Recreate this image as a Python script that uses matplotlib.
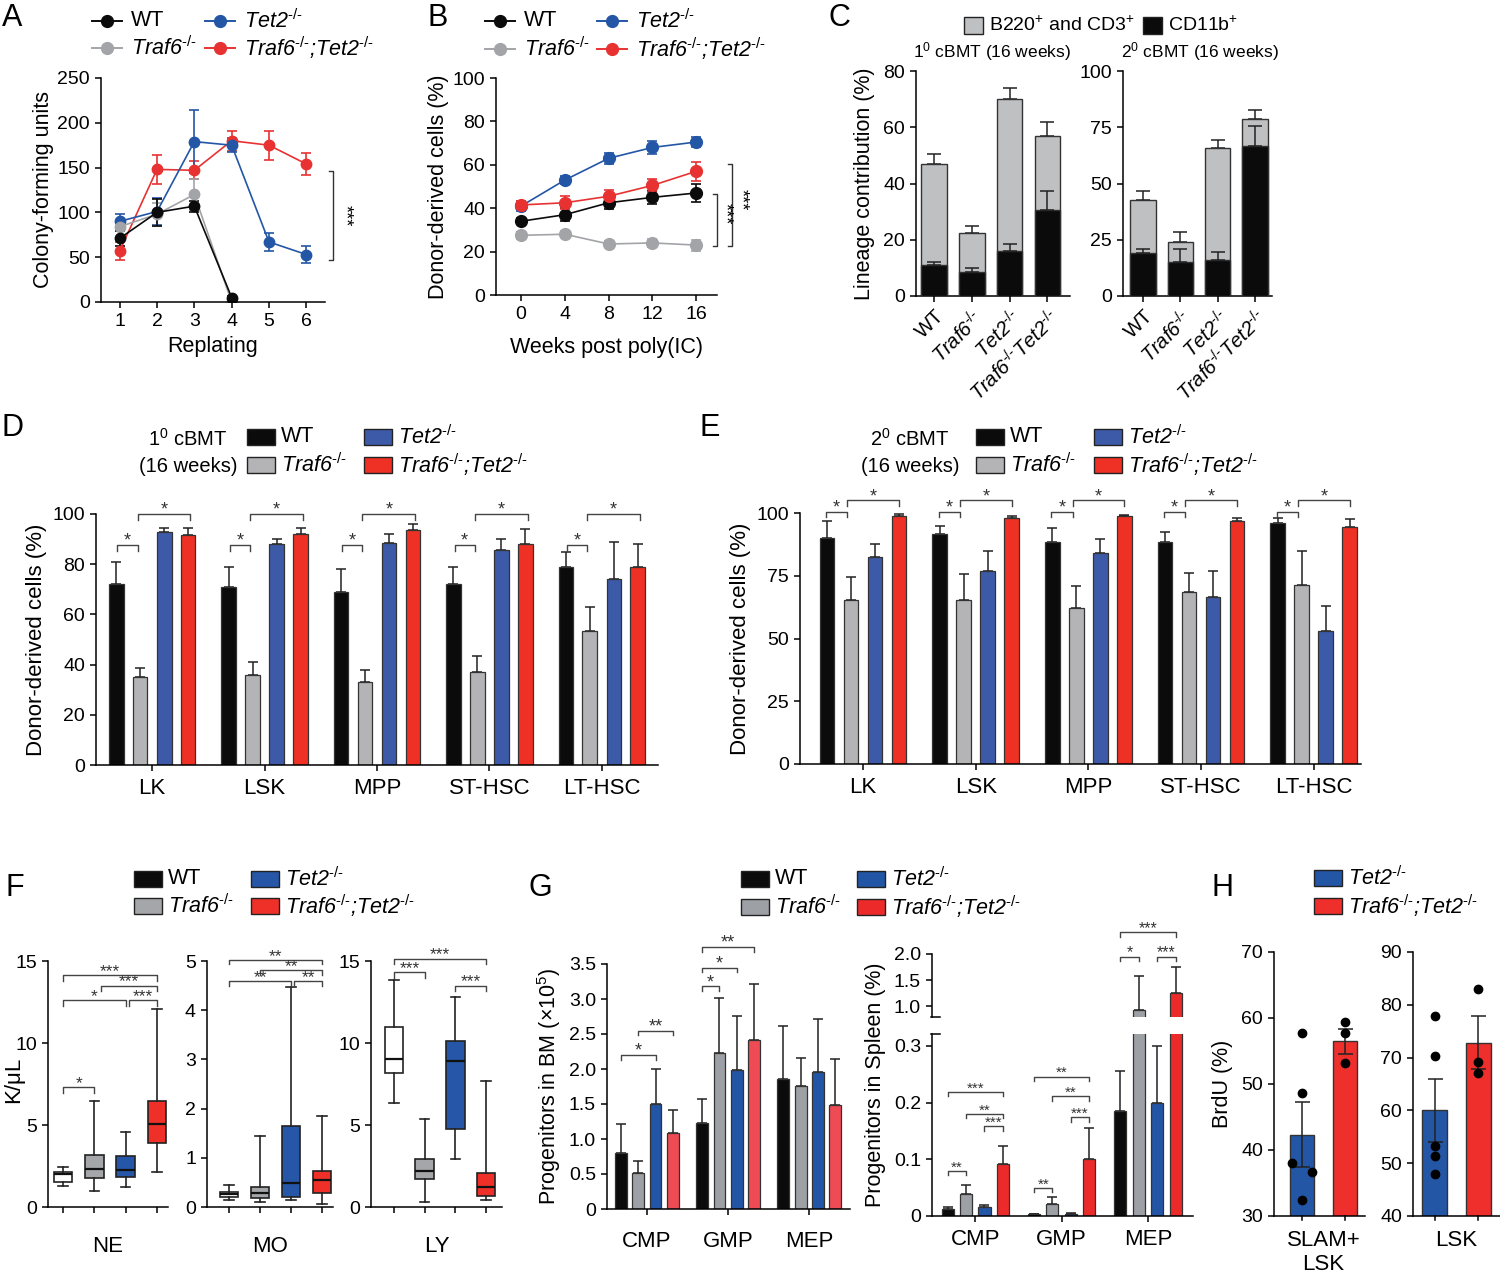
import numpy as np
import matplotlib
matplotlib.use('Agg')
import matplotlib.pyplot as plt
from matplotlib.lines import Line2D
from matplotlib.patches import Rectangle

plt.rcParams['font.family'] = ['Liberation Sans', 'DejaVu Sans']
plt.rcParams['mathtext.fontset'] = 'custom'
plt.rcParams['mathtext.rm'] = 'Liberation Sans'
plt.rcParams['mathtext.it'] = 'Liberation Sans:italic'
plt.rcParams['mathtext.bf'] = 'Liberation Sans:bold'
plt.rcParams['mathtext.fallback'] = 'stixsans'
plt.rcParams['axes.linewidth'] = 1.1
plt.rcParams['xtick.major.width'] = 1.1
plt.rcParams['ytick.major.width'] = 1.1
plt.rcParams['xtick.major.size'] = 4.5
plt.rcParams['ytick.major.size'] = 4.5
plt.rcParams['xtick.labelsize'] = 14
plt.rcParams['ytick.labelsize'] = 14
plt.rcParams['axes.labelsize'] = 15

# genotype labels (drawn in italic, "-/-" as a superscript of real hyphens)
KO = '$^{\u2010/\u2010}$'
L_WT = 'WT'
L_TRAF6 = 'Traf6' + KO
L_TET2 = 'Tet2' + KO
L_DKO = 'Traf6' + KO + ';Tet2' + KO

# ---- A: serial replating (colony-forming units) ----
replating = [1, 2, 3, 4, 5, 6]
a_wt = [71, 100, 107, 5]
a_wt_err = [8, 15, 6, 2]
a_traf6 = [84, 98, 120, 0]
a_traf6_err = [5, 13, 17, 1]
a_tet2 = [90, 101, 179, 175, 67, 53]
a_tet2_err = [8, 15, 35, 8, 10, 9]
a_dko = [57, 148, 147, 180, 175, 154]
a_dko_err = [10, 16, 10, 11, 16, 12]

# ---- B: donor chimerism over time ----
weeks = [0, 4, 8, 12, 16]
b_wt = [34, 37, 42.5, 45, 47]
b_wt_err = [1.5, 3, 3, 3, 4]
b_traf6 = [27.5, 28, 23.5, 24, 23]
b_traf6_err = [1.5, 1.5, 1.5, 2, 2.5]
b_tet2 = [41, 53, 63, 68, 70.5]
b_tet2_err = [2.5, 2, 2.5, 3, 2.5]
b_dko = [41.5, 42.5, 45.5, 50.5, 57]
b_dko_err = [2, 3, 3, 3, 4.5]

# ---- C: lineage contribution (stacked) ----
c_labels = ['WT', 'Traf6' + KO, 'Tet2' + KO, 'Traf6' + KO + 'Tet2' + KO]
c1_total = [47, 22.5, 70, 57]
c1_total_err = [3.5, 2.5, 4, 5]
c1_cd11b = [11, 8.5, 16, 30.5]
c1_cd11b_err = [1, 1.5, 2.5, 7]
c2_total = [42.5, 24, 66, 78.5]
c2_total_err = [4, 4.5, 3.5, 4]
c2_cd11b = [19, 15, 16, 66.5]
c2_cd11b_err = [2, 6, 3.5, 9]

# ---- D/E: donor-derived HSPC ----
cells = ['LK', 'LSK', 'MPP', 'ST-HSC', 'LT-HSC']
d_wt = [72, 71, 69, 72, 79]
d_wt_err = [9, 8, 9, 7, 6]
d_traf6 = [35, 36, 33, 37, 53.5]
d_traf6_err = [3.5, 5, 5, 6.5, 9.5]
d_tet2 = [93, 88, 88.5, 85.5, 74]
d_tet2_err = [1.5, 2, 3.5, 4.5, 15]
d_dko = [91.5, 92, 93.5, 88, 79]
d_dko_err = [3, 2.5, 2.5, 6, 9]

e_wt = [90, 91.5, 88.5, 88.5, 96]
e_wt_err = [7, 3.5, 5.5, 4, 2]
e_traf6 = [65.5, 65.5, 62, 68.5, 71.5]
e_traf6_err = [9, 10, 9, 7.5, 13.5]
e_tet2 = [82.5, 77, 84, 66.5, 53]
e_tet2_err = [5, 8, 5.5, 10.5, 10]
e_dko = [99, 98, 99, 97, 94.5]
e_dko_err = [0.5, 0.7, 0.4, 1.2, 3]

# ---- F: blood counts, box stats [whisker low, q1, median, q3, whisker high] ----
blood = ['NE', 'MO', 'LY']
f_ne = [[1.3, 1.55, 2.0, 2.15, 2.45], [1.0, 1.75, 2.3, 3.2, 6.45],
        [1.25, 1.85, 2.25, 3.1, 4.55], [2.15, 3.9, 5.05, 6.45, 12.05]]
f_mo = [[0.15, 0.21, 0.26, 0.30, 0.45], [0.10, 0.18, 0.28, 0.40, 1.45],
        [0.15, 0.20, 0.48, 1.65, 4.47], [0.06, 0.29, 0.54, 0.73, 1.84]]
f_ly = [[6.35, 8.15, 9.0, 11.0, 13.85], [0.3, 1.7, 2.2, 2.95, 5.35],
        [2.95, 4.75, 8.9, 10.15, 12.8], [0.4, 0.65, 1.25, 2.05, 7.7]]

# ---- G: progenitors in BM and spleen ----
prog = ['CMP', 'GMP', 'MEP']
g_bm_wt = [0.80, 1.23, 1.86]
g_bm_wt_err = [0.42, 0.34, 0.75]
g_bm_traf6 = [0.52, 2.23, 1.76]
g_bm_traf6_err = [0.16, 0.78, 0.40]
g_bm_tet2 = [1.50, 1.99, 1.96]
g_bm_tet2_err = [0.50, 0.77, 0.75]
g_bm_dko = [1.09, 2.42, 1.48]
g_bm_dko_err = [0.33, 0.80, 0.66]

g_sp_wt = [0.012, 0.003, 0.185]
g_sp_wt_err = [0.004, 0.001, 0.07]
g_sp_traf6 = [0.038, 0.022, 0.92]
g_sp_traf6_err = [0.016, 0.011, 0.66]
g_sp_tet2 = [0.016, 0.004, 0.20]
g_sp_tet2_err = [0.004, 0.001, 0.10]
g_sp_dko = [0.091, 0.10, 1.25]
g_sp_dko_err = [0.033, 0.055, 0.50]

# ---- H: BrdU ----
h_groups = ['SLAM+\nLSK', 'LSK']
h_tet2 = [42.3, 60.0]
h_tet2_err = [4.9, 6.0]
h_dko = [56.5, 72.8]
h_dko_err = [1.9, 5.0]
h_tet2_pts = [[57.7, 48.6, 38.0, 36.7, 32.4], [77.8, 70.3, 53.3, 51.3, 47.9]]
h_dko_pts = [[59.4, 57.7, 53.2], [82.9, 69.1, 67.0]]

# colours
BLACK = '#0b0b0b'
GRAY_LINE, BLUE_LINE, RED_LINE = '#a3a4a8', '#2456a6', '#e83232'
BAR_COLORS = [BLACK, '#b4b4b6', '#3c5aa8', '#ee3124']
BOX_COLORS = ['white', '#a4a6a9', '#2556a7', '#ef3028']
BM_COLORS = [BLACK, '#9da0a5', '#2355a6', '#ee4b55']
SP_COLORS = [BLACK, '#9da0a5', '#2355a6', '#ec2a2a']
OFFS = np.array([-0.32, -0.107, 0.107, 0.32])

W, H = 1500, 1275
fig = plt.figure(figsize=(W / 100, H / 100), dpi=100)


def fy(y):
    return 1 - y / H


def add_ax(x0, x1, ytop, ybot):
    ax = fig.add_axes([x0 / W, fy(ybot), (x1 - x0) / W, (ybot - ytop) / H])
    ax.spines[['top', 'right']].set_visible(False)
    return ax


def style_of(label):
    # gene names are italic, everything else upright
    return 'italic' if label.startswith(('Traf6', 'Tet2')) else 'normal'


def legend_line(x, y, color, label):
    fig.add_artist(Line2D([(x - 15) / W, (x + 15) / W], [fy(y), fy(y)], color=color, lw=1.4))
    fig.add_artist(Line2D([x / W], [fy(y)], marker='o', ms=8.5, color=color, lw=0))
    fig.text((x + 24) / W, fy(y), label, fontsize=15.5, va='center', fontstyle=style_of(label))


def legend_box(x, y, color, label, w=28, h=16, fs=15.5):
    fig.add_artist(Rectangle((x / W, fy(y + h / 2)), w / W, h / H, facecolor=color,
                             edgecolor='#222222', lw=1.0, transform=fig.transFigure))
    fig.text((x + w + 6) / W, fy(y), label, fontsize=fs, va='center', fontstyle=style_of(label))


def bracket(ax, x1, x2, y, leg, label, fs=13):
    ax.plot([x1, x1, x2, x2], [y - leg, y, y, y - leg], color='#444444', lw=1.0, clip_on=False)
    ax.annotate(label, ((x1 + x2) / 2, y), xytext=(0, -0.5), textcoords='offset points',
                ha='center', va='baseline', fontsize=fs, color='#333333', annotation_clip=False)


def group_bars(ax, vals, errs, colors, width, capsize):
    n = len(vals[0])
    x = np.arange(n)
    for k in range(4):
        xs = x + OFFS[k]
        ax.errorbar(xs, vals[k], yerr=[np.zeros(n), errs[k]], fmt='none', ecolor='#222222',
                    elinewidth=1.1, capsize=capsize, capthick=1.1, zorder=1)
        ax.bar(xs, vals[k], width, color=colors[k], edgecolor='#333333', lw=0.9, zorder=2)
    ax.set_xticks(x)


def letter(x, y, s):
    fig.text(x / W, fy(y), s, fontsize=22, va='top', ha='left')


# ===== A =====
ax = add_ax(101, 325, 78, 302)
for vals, err, col in [(a_dko, a_dko_err, RED_LINE), (a_tet2, a_tet2_err, BLUE_LINE),
                       (a_traf6, a_traf6_err, GRAY_LINE), (a_wt, a_wt_err, BLACK)]:
    ax.errorbar(replating[:len(vals)], vals, yerr=err, fmt='-o', color=col, ms=7.5, lw=1.2,
                elinewidth=1.2, capsize=3.6, capthick=1.2)
ax.set_xlim(0.5, 6.5)
ax.set_ylim(0, 250)
ax.set_xticks(replating)
ax.set_yticks(range(0, 251, 50))
ax.set_xlabel('Replating', fontsize=15.5, labelpad=4)
ax.set_ylabel('Colony-forming units', fontsize=15.5, labelpad=2)
ax.plot([6.62, 6.72, 6.72, 6.62], [146, 146, 47, 47], color='#333333', lw=1.0, clip_on=False)
ax.text(7.02, 96, '***', rotation=270, ha='center', va='center', fontsize=13)
legend_line(107, 21, BLACK, L_WT)
legend_line(220, 21, BLUE_LINE, L_TET2)
legend_line(107, 48, GRAY_LINE, L_TRAF6)
legend_line(220, 48, RED_LINE, L_DKO)
letter(2, 3, 'A')

# ===== B =====
ax = add_ax(496, 717, 78, 295)
for vals, err, col in [(b_traf6, b_traf6_err, GRAY_LINE), (b_tet2, b_tet2_err, BLUE_LINE),
                       (b_wt, b_wt_err, BLACK), (b_dko, b_dko_err, RED_LINE)]:
    ax.errorbar(weeks, vals, yerr=err, fmt='-o', color=col, ms=8.5, lw=1.2,
                elinewidth=1.2, capsize=3.6, capthick=1.2)
ax.set_xlim(-2.3, 17.9)
ax.set_ylim(0, 100)
ax.set_xticks(weeks)
ax.set_yticks(range(0, 101, 20))
ax.set_xlabel('Weeks post poly(IC)', fontsize=15.5, labelpad=10)
ax.set_ylabel('Donor-derived cells (%)', fontsize=15.5, labelpad=2)
ax.plot([17.55, 17.9, 17.9, 17.55], [46.5, 46.5, 22.7, 22.7], color='#333333', lw=1.0, clip_on=False)
ax.plot([18.95, 19.3, 19.3, 18.95], [60.2, 60.2, 22.7, 22.7], color='#333333', lw=1.0, clip_on=False)
ax.text(18.6, 37.6, '***', rotation=270, ha='center', va='center', fontsize=13)
ax.text(20.1, 43.8, '***', rotation=270, ha='center', va='center', fontsize=13)
legend_line(500, 21, BLACK, L_WT)
legend_line(612, 21, BLUE_LINE, L_TET2)
legend_line(500, 49, GRAY_LINE, L_TRAF6)
legend_line(612, 49, RED_LINE, L_DKO)
letter(427, 3, 'B')


# ===== C =====
def lineage(ax, total, total_err, cd11b, cd11b_err):
    x = np.arange(len(total))
    z = np.zeros(len(total))
    ax.bar(x, total, 0.68, color='#bfc0c2', edgecolor='#333333', lw=1.0, zorder=2)
    ax.errorbar(x, total, yerr=[z, total_err], fmt='none', ecolor='#222222', elinewidth=1.1,
                capsize=5, capthick=1.1, zorder=1)
    ax.bar(x, cd11b, 0.68, color=BLACK, edgecolor='#333333', lw=1.0, zorder=3)
    ax.errorbar(x, cd11b, yerr=[z, cd11b_err], fmt='none', ecolor='#222222', elinewidth=1.1,
                capsize=5, capthick=1.1, zorder=4)
    ax.set_xticks(x)
    ax.set_xticklabels(c_labels, rotation=45, ha='right', rotation_mode='anchor', fontsize=14.5)
    for lbl in ax.get_xticklabels():
        lbl.set_fontstyle(style_of(lbl.get_text()))
    ax.tick_params(axis='x', pad=3)


ax = add_ax(916, 1070, 71, 296)
lineage(ax, c1_total, c1_total_err, c1_cd11b, c1_cd11b_err)
ax.set_xlim(-0.48, 3.6)
ax.set_ylim(0, 80)
ax.set_yticks(range(0, 81, 20))
ax.set_ylabel('Lineage contribution (%)', fontsize=15.5, labelpad=6)
ax = add_ax(1123, 1272, 71, 296)
lineage(ax, c2_total, c2_total_err, c2_cd11b, c2_cd11b_err)
ax.set_xlim(-0.54, 3.46)
ax.set_ylim(0, 100)
ax.set_yticks(range(0, 101, 25))
fig.text(992 / W, fy(52), r'1$^{0}$ cBMT (16 weeks)', fontsize=12.5, ha='center', va='center')
fig.text(1200 / W, fy(52), r'2$^{0}$ cBMT (16 weeks)', fontsize=12.5, ha='center', va='center')
legend_box(964, 25, '#bfc0c2', r'B220$^{+}$ and CD3$^{+}$', w=19, h=17, fs=14)
legend_box(1143, 25, BLACK, r'CD11b$^{+}$', w=19, h=17, fs=14)
letter(828, 3, 'C')

# ===== D =====
ax = add_ax(96, 658, 514, 765)
group_bars(ax, [d_wt, d_traf6, d_tet2, d_dko], [d_wt_err, d_traf6_err, d_tet2_err, d_dko_err],
           BAR_COLORS, 0.13, 3.3)
ax.set_xticklabels(cells, fontsize=16)
ax.tick_params(axis='x', pad=5)
ax.set_xlim(-0.5, 4.5)
ax.set_ylim(0, 100)
ax.set_yticks(range(0, 101, 20))
ax.set_ylabel('Donor-derived cells (%)', fontsize=16, labelpad=4)
for i in range(len(cells)):
    bracket(ax, i - 0.31, i - 0.13, 87.6, 2.4, '*')
    bracket(ax, i - 0.13, i + 0.34, 100, 2.5, '*')
fig.text(188 / W, fy(452), r'1$^{0}$ cBMT' + '\n(16 weeks)', fontsize=14.5, ha='center', va='center',
         linespacing=1.45)
legend_box(247, 437, BAR_COLORS[0], L_WT)
legend_box(364, 437, BAR_COLORS[2], L_TET2)
legend_box(247, 465, BAR_COLORS[1], L_TRAF6)
legend_box(364, 465, BAR_COLORS[3], L_DKO)
letter(2, 413, 'D')

# ===== E =====
ax = add_ax(800, 1361, 513, 764)
group_bars(ax, [e_wt, e_traf6, e_tet2, e_dko], [e_wt_err, e_traf6_err, e_tet2_err, e_dko_err],
           BAR_COLORS, 0.13, 3.3)
ax.set_xticklabels(cells, fontsize=16)
ax.tick_params(axis='x', pad=5)
ax.set_xlim(-0.56, 4.42)
ax.set_ylim(0, 100)
ax.set_yticks(range(0, 101, 25))
ax.set_ylabel('Donor-derived cells (%)', fontsize=16, labelpad=4)
for i in range(len(cells)):
    bracket(ax, i - 0.33, i - 0.14, 100.3, 2.0, '*')
    bracket(ax, i - 0.14, i + 0.32, 105, 2.2, '*')
fig.text(910 / W, fy(452), r'2$^{0}$ cBMT' + '\n(16 weeks)', fontsize=14.5, ha='center', va='center',
         linespacing=1.45)
legend_box(976, 437, BAR_COLORS[0], L_WT)
legend_box(1094, 437, BAR_COLORS[2], L_TET2)
legend_box(976, 465, BAR_COLORS[1], L_TRAF6)
legend_box(1094, 465, BAR_COLORS[3], L_DKO)
letter(699, 413, 'E')

# ===== F =====
f_layout = [((48, 168), (-0.48, 3.35), 15, [0, 5, 10, 15]),
            ((207, 333), (-0.71, 3.35), 5, [0, 1, 2, 3, 4, 5]),
            ((371, 502), (-0.75, 3.52), 15, [0, 5, 10, 15])]
f_brackets = [
    [(0, 1, 7.3, 0.35, '*'), (0, 2, 12.6, 0.35, '*'), (2.12, 3, 12.6, 0.35, '***'),
     (1.22, 3, 13.5, 0.35, '***'), (0, 3, 14.15, 0.35, '***')],
    [(0, 2, 4.59, 0.09, '**'), (2.1, 3, 4.59, 0.09, '**'), (1, 3, 4.81, 0.09, '**'),
     (0, 3, 5.02, 0.09, '**')],
    [(0, 1, 14.3, 0.35, '***'), (2, 3, 13.5, 0.35, '***'), (0, 3, 15.15, 0.35, '***')],
]
for (px, xl, ymax, yt), box, name, brs in zip(f_layout, [f_ne, f_mo, f_ly], blood, f_brackets):
    ax = add_ax(px[0], px[1], 961, 1207)
    stats = [dict(whislo=s[0], q1=s[1], med=s[2], q3=s[3], whishi=s[4], fliers=[]) for s in box]
    bp = ax.bxp(stats, positions=range(4), widths=0.6, patch_artist=True, showfliers=False,
                boxprops=dict(edgecolor='#222222', lw=1.2),
                medianprops=dict(color='#111111', lw=1.6),
                whiskerprops=dict(color='#222222', lw=1.2),
                capprops=dict(color='#222222', lw=1.2))
    for patch, c in zip(bp['boxes'], BOX_COLORS):
        patch.set_facecolor(c)
    ax.set_xlim(*xl)
    ax.set_ylim(0, ymax)
    ax.set_yticks(yt)
    ax.set_xticks(range(4))
    ax.set_xticklabels([])
    ax.set_xlabel(name, fontsize=16, labelpad=13)
    for x1, x2, y, leg, lab in brs:
        bracket(ax, x1, x2, y, leg, lab, fs=12.5)
fig.text(14 / W, fy(1080), 'K/\u03bcL', fontsize=16, rotation=90, ha='center', va='center')
legend_box(134, 879, BLACK, L_WT)
legend_box(251, 879, BOX_COLORS[2], L_TET2)
legend_box(134, 906, BOX_COLORS[1], L_TRAF6)
legend_box(251, 906, BOX_COLORS[3], L_DKO)
letter(5, 873, 'F')

# ===== G (bone marrow) =====
ax = add_ax(607, 850, 964, 1209)
group_bars(ax, [g_bm_wt, g_bm_traf6, g_bm_tet2, g_bm_dko],
           [g_bm_wt_err, g_bm_traf6_err, g_bm_tet2_err, g_bm_dko_err], BM_COLORS, 0.145, 3.6)
ax.set_xticklabels(prog, fontsize=16)
ax.tick_params(axis='x', pad=11)
ax.set_xlim(-0.49, 2.5)
ax.set_ylim(0, 3.5)
ax.set_yticks(np.arange(0, 3.51, 0.5))
ax.set_yticklabels(['0', '0.5', '1.0', '1.5', '2.0', '2.5', '3.0', '3.5'])
ax.set_ylabel(r'Progenitors in BM ($\times$10$^{5}$)', fontsize=15.5, labelpad=4)
for c, a, b, y, lab in [(0, 0, 2, 2.2, '*'), (0, 1, 3, 2.55, '**'), (1, 0, 1, 3.18, '*'),
                        (1, 0, 2, 3.45, '*'), (1, 0, 3, 3.74, '**')]:
    bracket(ax, c + OFFS[a], c + OFFS[b], y, 0.07, lab)

# ===== G (spleen, broken axis) =====
sp_vals = [g_sp_wt, g_sp_traf6, g_sp_tet2, g_sp_dko]
sp_errs = [g_sp_wt_err, g_sp_traf6_err, g_sp_tet2_err, g_sp_dko_err]
lo = add_ax(932, 1193, 1034, 1216)
group_bars(lo, sp_vals, sp_errs, SP_COLORS, 0.14, 3.6)
lo.set_xticklabels(prog, fontsize=16)
lo.tick_params(axis='x', pad=5)
lo.set_xlim(-0.5, 2.52)
lo.set_ylim(0, 0.321)
lo.set_yticks([0, 0.1, 0.2, 0.3])
lo.set_yticklabels(['0', '0.1', '0.2', '0.3'])
hi = add_ax(932, 1193, 954, 1017)
group_bars(hi, sp_vals, sp_errs, SP_COLORS, 0.14, 3.6)
hi.spines['bottom'].set_visible(False)
hi.set_xticks([])
hi.set_xlim(-0.5, 2.52)
hi.set_ylim(0.79, 2.0)
hi.set_yticks([1.0, 1.5, 2.0])
hi.set_yticklabels(['1.0', '1.5', '2.0'])
for yb in (1017, 1034):
    fig.add_artist(Line2D([931 / W, 940 / W], [fy(yb), fy(yb)], color='black', lw=1.1))
for c, a, b, y, lab in [(0, 0, 1, 0.08, '**'), (0, 2, 3, 0.158, '***'), (0, 1, 3, 0.18, '**'),
                        (0, 0, 3, 0.219, '***'), (1, 0, 1, 0.05, '**'), (1, 2, 3, 0.174, '***'),
                        (1, 1, 3, 0.211, '**'), (1, 0, 3, 0.246, '**')]:
    bracket(lo, c + OFFS[a], c + OFFS[b], y, 0.008, lab, fs=11)
for c, a, b, y, lab in [(2, 0, 1, 1.95, '*'), (2, 2, 3, 1.95, '***'), (2, 0, 3, 2.42, '***')]:
    bracket(hi, c + OFFS[a], c + OFFS[b], y, 0.09, lab, fs=11.5)
fig.text(875 / W, fy(1085), 'Progenitors in Spleen (%)', fontsize=15.5, rotation=90,
         ha='center', va='center')
legend_box(741, 879, BLACK, L_WT)
legend_box(857, 879, BM_COLORS[2], L_TET2)
legend_box(741, 907, BM_COLORS[1], L_TRAF6)
legend_box(857, 907, SP_COLORS[3], L_DKO)
letter(528, 873, 'G')

# ===== H =====
h_jitter = [[0, 0, -0.22, 0.23, 0], [0, 0, 0, 0, 0]]
h_layout = [((1274, 1365), (-0.65, 1.47), (30, 70)), ((1413, 1500), (-0.5, 1.5), (40, 90))]
for i, ((x0, x1), xl, yl) in enumerate(h_layout):
    ax = add_ax(x0, x1, 952, 1216)
    ax.bar([0, 1], [h_tet2[i], h_dko[i]], 0.57, color=['#2456a6', '#ee2f2c'],
           edgecolor='#333333', lw=1.0, zorder=2)
    ax.errorbar([0, 1], [h_tet2[i], h_dko[i]], yerr=[h_tet2_err[i], h_dko_err[i]], fmt='none',
                ecolor='#222222', elinewidth=1.1, capsize=5.4, capthick=1.1, zorder=3)
    ax.plot(np.zeros(len(h_tet2_pts[i])) + h_jitter[i], h_tet2_pts[i], 'o', color='black', ms=6,
            zorder=4)
    ax.plot(np.ones(len(h_dko_pts[i])), h_dko_pts[i], 'o', color='black', ms=6, zorder=4)
    ax.set_xlim(*xl)
    ax.set_ylim(*yl)
    ax.set_yticks(range(yl[0], yl[1] + 1, 10))
    ax.set_xticks([0.5])
    ax.set_xticklabels([h_groups[i]], fontsize=16, linespacing=1.2, va='top')
    ax.tick_params(axis='x', length=0, pad=10)
    for xt in (0, 1):
        ax.plot([xt, xt], [yl[0], yl[0] - (yl[1] - yl[0]) * 0.017], color='black', lw=1.1,
                clip_on=False)
    if i == 0:
        ax.set_ylabel('BrdU (%)', fontsize=15.5, labelpad=6)
legend_box(1314, 878, '#2456a6', L_TET2)
legend_box(1314, 906, '#ee2f2c', L_DKO)
letter(1212, 873, 'H')

fig.savefig('out.png', dpi=100)
